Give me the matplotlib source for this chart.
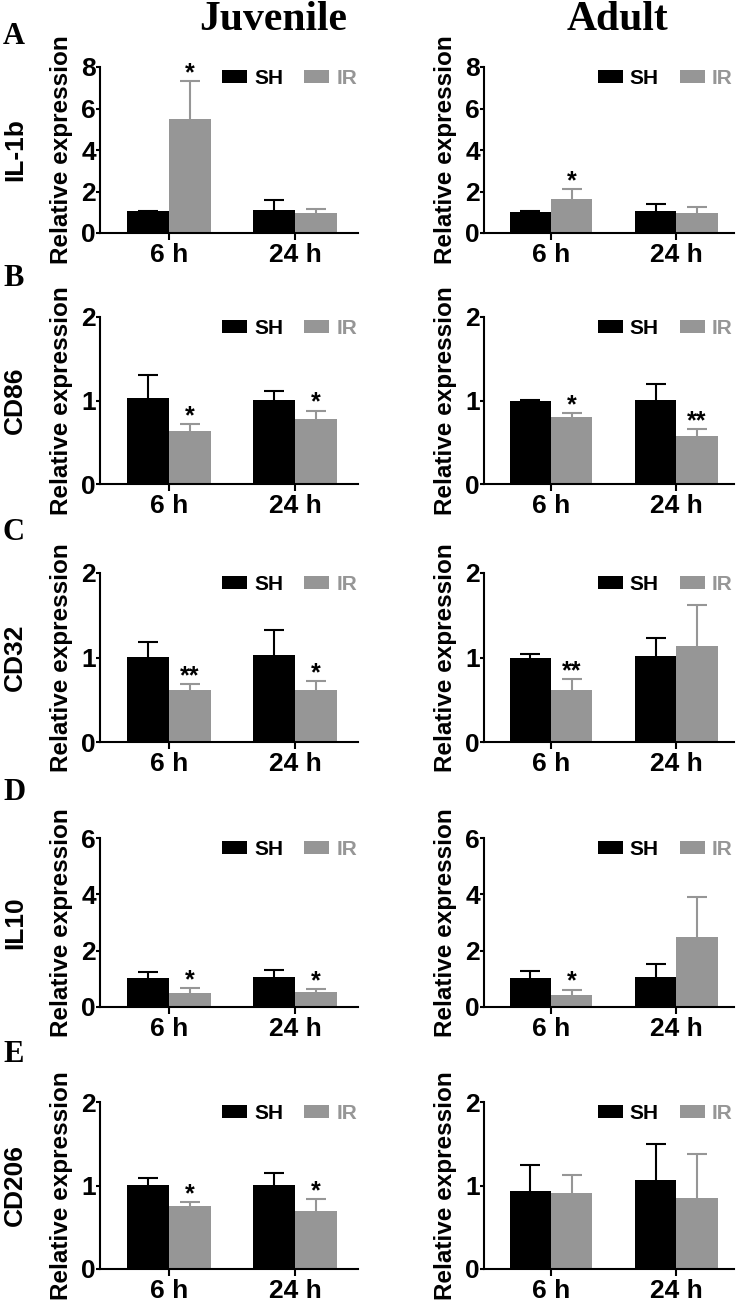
import matplotlib
matplotlib.use('Agg')
import matplotlib.pyplot as plt
import numpy as np

plt.rcParams['font.family'] = ['Liberation Sans', 'DejaVu Sans']
plt.rcParams['font.weight'] = 'bold'

# data (mean and upper SEM per time point)
genes = ['IL-1b', 'CD86', 'CD32', 'IL10', 'CD206']
letters = ['A', 'B', 'C', 'D', 'E']
times = ['6 h', '24 h']
ymax = [8, 2, 2, 6, 2]
ystep = [2, 1, 1, 2, 1]

juv_sh = [[1.05, 1.12], [1.03, 1.01], [1.01, 1.03], [1.03, 1.05], [1.01, 1.01]]
juv_sh_err = [[0.03, 0.46], [0.28, 0.10], [0.17, 0.30], [0.21, 0.28], [0.08, 0.14]]
juv_ir = [[5.49, 0.96], [0.64, 0.78], [0.62, 0.62], [0.48, 0.55], [0.76, 0.69]]
juv_ir_err = [[1.84, 0.21], [0.08, 0.10], [0.07, 0.10], [0.20, 0.10], [0.04, 0.15]]
juv_stars = [['*', ''], ['*', '*'], ['**', '*'], ['*', '*'], ['*', '*']]

adu_sh = [[1.02, 1.05], [1.00, 1.01], [1.00, 1.02], [1.03, 1.08], [0.94, 1.07]]
adu_sh_err = [[0.02, 0.37], [0.01, 0.19], [0.04, 0.21], [0.26, 0.44], [0.31, 0.43]]
adu_ir = [[1.65, 0.94], [0.80, 0.58], [0.62, 1.14], [0.44, 2.47], [0.91, 0.85]]
adu_ir_err = [[0.48, 0.29], [0.05, 0.08], [0.12, 0.48], [0.18, 1.43], [0.21, 0.53]]
adu_stars = [['*', ''], ['*', '**'], ['**', ''], ['*', ''], ['', '']]

W, H = 742, 1303
GRAY = '#969696'
row_top = [67, 317, 573, 838, 1102]
row_bot = [233, 484, 742, 1007, 1269]
col_x = [(100, 358), (484, 734)]
col_xlim = [(-0.548, 1.5), (-0.536, 1.46)]

fig = plt.figure(figsize=(W / 100, H / 100), dpi=100)


def upper_errbar(ax, x, y, err, color):
    # only the upper half of the error bar, no cap at the bar top
    eb = ax.errorbar(x, y, yerr=[np.zeros(len(y)), err], fmt='none', ecolor=color,
                     elinewidth=1.5, capsize=7.5, capthick=1.5, zorder=1)
    for cl in eb[1]:
        if np.allclose(cl.get_ydata(), y):
            cl.set_visible(False)


def draw(ax, sh, sh_err, ir, ir_err, stars, top, step):
    x = np.arange(len(times))
    bw = 0.33
    ax.bar(x - bw / 2, sh, bw, color='black', label='SH', zorder=2)
    ax.bar(x + bw / 2, ir, bw, color=GRAY, label='IR', zorder=2)
    upper_errbar(ax, x - bw / 2, sh, sh_err, 'black')
    upper_errbar(ax, x + bw / 2, ir, ir_err, GRAY)
    for i, s in enumerate(stars):
        if s:
            ax.annotate(s, (x[i] + bw / 2, ir[i] + ir_err[i]), xytext=(0, -3),
                        textcoords='offset points', ha='center', va='bottom',
                        fontsize=18, fontweight='bold')
    ax.set_ylim(0, top)
    ax.set_yticks(np.arange(0, top + 0.01, step))
    ax.set_xticks(x)
    ax.set_xticklabels(times)
    for sp in ['top', 'right']:
        ax.spines[sp].set_visible(False)
    for sp in ['left', 'bottom']:
        ax.spines[sp].set_linewidth(1.5)
    ax.tick_params(axis='x', direction='out', length=5, width=1.5, labelsize=19, pad=2)
    ax.tick_params(axis='y', direction='out', length=3, width=1.5, labelsize=19, pad=0)
    ax.set_ylabel('Relative expression', fontsize=17.5, fontweight='bold', labelpad=6)
    leg = ax.legend(loc='upper right', bbox_to_anchor=(1.07, 1.1), ncol=2, frameon=False,
                    fontsize=15, handlelength=1.2, handleheight=0.6,
                    handletextpad=0.35, columnspacing=1.0)
    leg.get_texts()[1].set_color(GRAY)


for r in range(len(genes)):
    for c in range(2):
        x0, x1 = col_x[c]
        ax = fig.add_axes([x0 / W, 1 - row_bot[r] / H, (x1 - x0) / W,
                           (row_bot[r] - row_top[r]) / H])
        if c == 0:
            draw(ax, juv_sh[r], juv_sh_err[r], juv_ir[r], juv_ir_err[r], juv_stars[r],
                 ymax[r], ystep[r])
        else:
            draw(ax, adu_sh[r], adu_sh_err[r], adu_ir[r], adu_ir_err[r], adu_stars[r],
                 ymax[r], ystep[r])
        ax.set_xlim(*col_xlim[c])
    yc = (row_top[r] + row_bot[r]) / 2
    fig.text(15 / W, 1 - yc / H, genes[r], rotation=90, ha='center', va='center',
             fontsize=19, fontweight='bold')

letter_y = [36, 278, 533, 793, 1055]
for r in range(len(letters)):
    fig.text(14 / W, 1 - letter_y[r] / H, letters[r], ha='center', va='center',
             fontsize=22, fontweight='bold', family='Liberation Serif')

fig.text(273 / W, 1 - 30 / H, 'Juvenile', ha='center', va='baseline', fontsize=30,
         fontweight='bold', family='Liberation Serif')
fig.text(617 / W, 1 - 30 / H, 'Adult', ha='center', va='baseline', fontsize=30,
         fontweight='bold', family='Liberation Serif')

fig.savefig('out.png', dpi=100)
